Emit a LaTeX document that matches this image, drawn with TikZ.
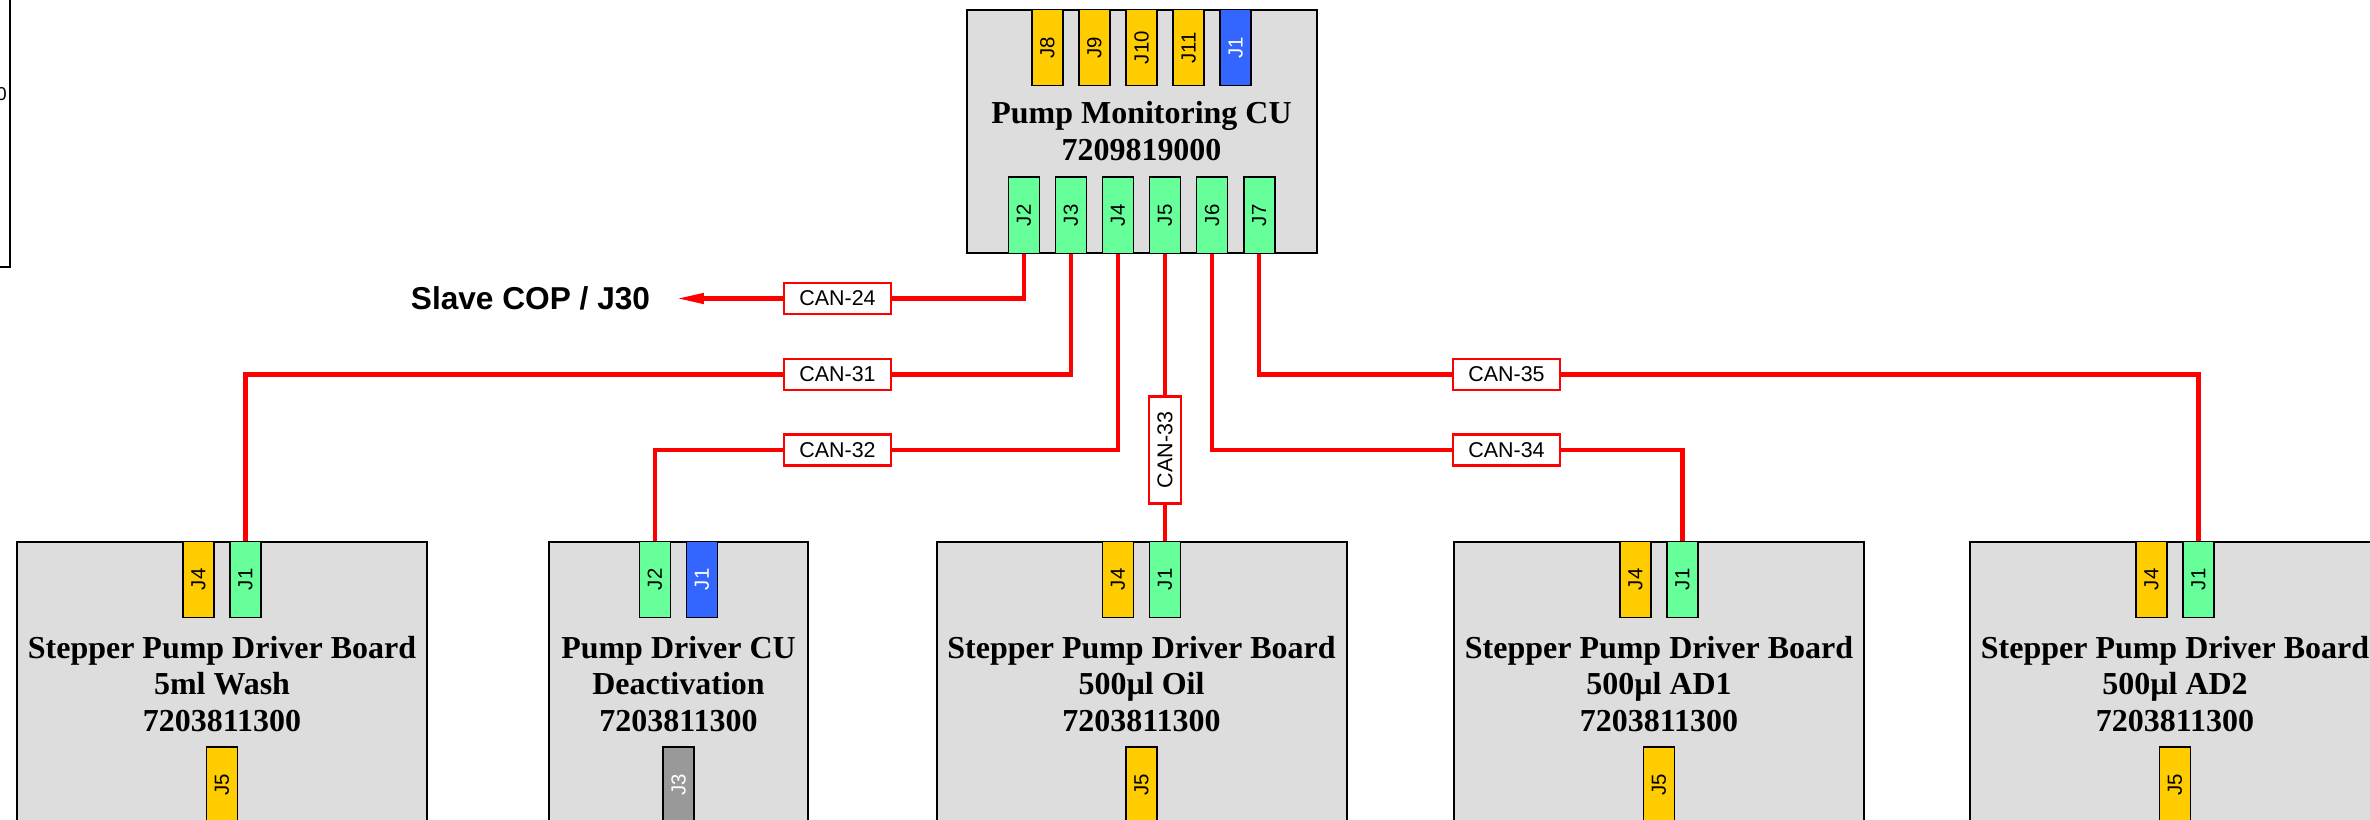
\documentclass[tikz,border=0pt]{standalone}
\usepackage{fontspec}
\setmainfont{Liberation Serif}
\setsansfont{Liberation Sans}
\usepackage{graphicx}
\usetikzlibrary{arrows.meta,positioning}
\definecolor{pinYel}{HTML}{FFCC00}
\definecolor{pinGrn}{HTML}{66FF99}
\definecolor{pinBlu}{HTML}{3366FF}
\definecolor{pinGry}{HTML}{999999}
\definecolor{brdGray}{HTML}{DDDDDD}
\definecolor{canRed}{HTML}{FF0000}

\begin{document}
\begin{tikzpicture}[
  brd/.style={draw,line width=0.2mm,fill=brdGray,align=center,inner sep=0pt,font=\fontsize{9.1}{10.5}\selectfont\bfseries},
  pin/.style={draw,line width=0.15mm,minimum width=3.1mm,minimum height=7.6mm,inner sep=0pt,font=\fontsize{5.8}{6}\selectfont\sffamily},
  yel/.style={pin,fill=pinYel},
  grn/.style={pin,fill=pinGrn},
  blu/.style={pin,fill=pinBlu,text=white},
  gry/.style={pin,fill=pinGry,text=white},
  can/.style={draw=canRed,line width=0.25mm,fill=white,inner sep=0pt,minimum width=10.7mm,minimum height=3.1mm,font=\fontsize{6.1}{7}\selectfont\sffamily},
  wire/.style={canRed,line width=0.42mm},
  arr/.style={wire,-{Triangle[length=2.7mm,width=1mm]}}]
  \path[use as bounding box] (0,0) rectangle (237mm,-82mm);
  \clip (0,0) rectangle (237mm,-82mm);
  % previous sheet part, cut at the corner
  \node[draw,line width=0.2mm,fill=white,minimum width=40mm,minimum height=40mm,anchor=south east] (prev) at (1.1mm,-26.8mm) {};
  \node[font=\fontsize{5.3}{6}\selectfont\sffamily,anchor=east,inner sep=0pt] (prevtxt) at (0.75mm,-9.45mm) {0};
  % monitoring unit
  \node[brd,minimum width=35mm,minimum height=24.3mm] (cu) at (114.15mm,-13.15mm) {Pump Monitoring CU\\ 7209819000};
  \node[yel,below=0mm of cu.north] (p10) {\rotatebox{90}{J10}};
  \node[yel,left=1.46mm of p10] (p9) {\rotatebox{90}{J9}};
  \node[yel,left=1.46mm of p9] (p8) {\rotatebox{90}{J8}};
  \node[yel,right=1.46mm of p10] (p11) {\rotatebox{90}{J11}};
  \node[blu,right=1.46mm of p11] (p1) {\rotatebox{90}{J1}};
  \node[grn,above left=0mm and 0.73mm of cu.south] (p4) {\rotatebox{90}{J4}};
  \node[grn,above right=0mm and 0.73mm of cu.south] (p5) {\rotatebox{90}{J5}};
  \node[grn,left=1.46mm of p4] (p3) {\rotatebox{90}{J3}};
  \node[grn,left=1.46mm of p3] (p2) {\rotatebox{90}{J2}};
  \node[grn,right=1.46mm of p5] (p6) {\rotatebox{90}{J6}};
  \node[grn,right=1.46mm of p6] (p7) {\rotatebox{90}{J7}};
  % driver boards
  \node[brd,minimum width=41mm,minimum height=28.5mm] (b1) at (22.2mm,-68.4mm) {Stepper Pump Driver Board\\ 5ml Wash\\ 7203811300};
  \node[brd,minimum width=25.9mm,minimum height=28.5mm] (b2) at (67.85mm,-68.4mm) {Pump Driver CU\\ Deactivation\\ 7203811300};
  \node[brd,minimum width=41mm,minimum height=28.5mm] (b3) at (114.15mm,-68.4mm) {Stepper Pump Driver Board\\ 500µl Oil\\ 7203811300};
  \node[brd,minimum width=41mm,minimum height=28.5mm] (b4) at (165.9mm,-68.4mm) {Stepper Pump Driver Board\\ 500µl AD1\\ 7203811300};
  \node[brd,minimum width=41mm,minimum height=28.5mm] (b5) at (217.5mm,-68.4mm) {Stepper Pump Driver Board\\ 500µl AD2\\ 7203811300};
  \foreach \b in {b1,b3,b4,b5}{
    \node[yel,below left=0mm and 0.73mm of \b.north] (\b-j4) {\rotatebox{90}{J4}};
    \node[grn,below right=0mm and 0.73mm of \b.north] (\b-j1) {\rotatebox{90}{J1}};
    \node[yel,below=20.55mm of \b.north] (\b-j5) {\rotatebox{90}{J5}};
  }
  \node[grn,below left=0mm and 0.73mm of b2.north] (b2-j2) {\rotatebox{90}{J2}};
  \node[blu,below right=0mm and 0.73mm of b2.north] (b2-j1) {\rotatebox{90}{J1}};
  \node[gry,below=20.55mm of b2.north] (b2-j3) {\rotatebox{90}{J3}};
  % cable tags
  \node[can] (c24) at (83.75mm,-29.85mm) {CAN-24};
  \node[can] (c31) at (83.75mm,-37.45mm) {CAN-31};
  \node[can] (c32) at (83.75mm,-45mm) {CAN-32};
  \node[can] (c34) at (150.65mm,-45mm) {CAN-34};
  \node[can] (c35) at (150.65mm,-37.45mm) {CAN-35};
  \node[can,minimum width=3.2mm,minimum height=10.7mm] (c33) at (p5.south |- c32) {\rotatebox{90}{CAN-33}};
  \node[font=\fontsize{9}{10}\selectfont\sffamily\bfseries,inner sep=0pt,left=13.2mm of c24] (cop) {Slave COP / J30};
  % cables
  \draw[wire] (p2.south) |- (c24.east);
  \draw[arr,shorten >=2.6mm] (c24.west) -- (cop.east);
  \draw[wire] (p3.south) |- (c31.east);
  \draw[wire] (c31.west) -| (b1-j1.north);
  \draw[wire] (p4.south) |- (c32.east);
  \draw[wire] (c32.west) -| (b2-j2.north);
  \draw[wire] (p5.south) -- (c33.north);
  \draw[wire] (c33.south) -- (b3-j1.north);
  \draw[wire] (p6.south) |- (c34.west);
  \draw[wire] (c34.east) -| (b4-j1.north);
  \draw[wire] (p7.south) |- (c35.west);
  \draw[wire] (c35.east) -| (b5-j1.north);
\end{tikzpicture}
\end{document}
